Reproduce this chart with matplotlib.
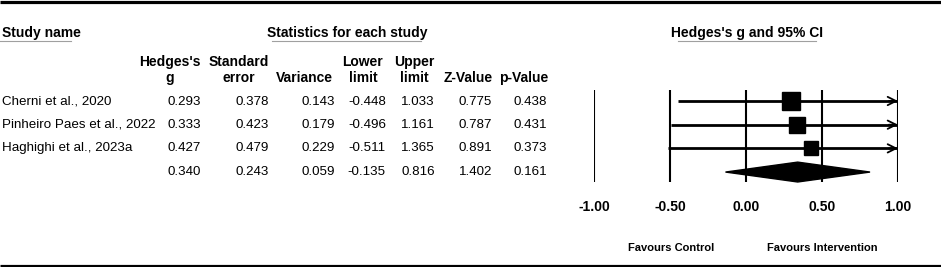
import matplotlib
matplotlib.use("Agg")
import matplotlib.pyplot as plt
from matplotlib.patches import Polygon
import numpy as np

plt.rcParams['font.family'] = ['Liberation Sans', 'DejaVu Sans']

# ---------------- data ----------------
studies = ["Cherni et al., 2020", "Pinheiro Paes et al., 2022", "Haghighi et al., 2023a", ""]
hedges_g = [0.293, 0.333, 0.427, 0.340]
std_err = [0.378, 0.423, 0.479, 0.243]
variance = [0.143, 0.179, 0.229, 0.059]
lower = [-0.448, -0.496, -0.511, -0.135]
upper = [1.033, 1.161, 1.365, 0.816]
z_value = [0.775, 0.787, 0.891, 1.402]
p_value = [0.438, 0.431, 0.373, 0.161]
col_headers = ["Hedges's\ng", "Standard\nerror", "Variance", "Lower\nlimit", "Upper\nlimit", "Z-Value", "p-Value"]
x_ticks = [-1.0, -0.5, 0.0, 0.5, 1.0]
x_tick_labels = ["-1.00", "-0.50", "0.00", "0.50", "1.00"]

W, H = 941, 267
fig = plt.figure(figsize=(W / 100, H / 100), dpi=100)

# full-figure axes in pixel coordinates for the table
tab = fig.add_axes([0, 0, 1, 1])
tab.set_xlim(0, W)
tab.set_ylim(H, 0)
tab.axis('off')

FS = 10
FSR = 9.6
# borders
tab.plot([0, W], [1.5, 1.5], color='black', lw=2.3, solid_capstyle='butt')
tab.plot([0, W], [265.5, 265.5], color='black', lw=2.3, solid_capstyle='butt')

# section titles
tab.text(2, 33, "Study name", fontsize=FS, fontweight='bold', ha='left', va='center')
tab.plot([0, 71], [40.5, 40.5], color='#a0a0a0', lw=0.8)
tab.text(347, 33, "Statistics for each study", fontsize=FS, fontweight='bold', ha='center', va='center')
tab.plot([272, 421], [40.5, 40.5], color='#a0a0a0', lw=0.8)
tab.text(747, 33, "Hedges's g and 95% CI", fontsize=FS, fontweight='bold', ha='center', va='center')
tab.plot([678, 816], [40.5, 40.5], color='#a0a0a0', lw=0.8)

col_right = [201, 269, 335, 386, 435, 492, 547]
col_center = [170, 239, 304, 363, 414, 468, 524]
for hdr, cx in zip(col_headers, col_center):
    tab.text(cx, 82, hdr, fontsize=FS, fontweight='bold', ha='center', va='baseline',
             multialignment='center', linespacing=1.15)

row_y = [102, 124.5, 148, 172]
cols = [hedges_g, std_err, variance, lower, upper, z_value, p_value]
for i, name in enumerate(studies):
    tab.text(2, row_y[i], name, fontsize=FSR, ha='left', va='center')
    for col, xr in zip(cols, col_right):
        tab.text(xr, row_y[i], f"{col[i]:.3f}", fontsize=FSR, ha='right', va='center')

# ---------------- forest plot axes ----------------
x0, x1 = 594, 898
ytop, ybot = 90, 182
ax = fig.add_axes([x0 / W, (H - ybot) / H, (x1 - x0) / W, (ybot - ytop) / H])
ax.set_xlim(-1.0, 1.0)
ax.set_ylim(3.42, -0.465)
for s in ax.spines.values():
    s.set_visible(False)
ax.set_yticks([])
ax.set_xticks(x_ticks)
ax.set_xticklabels(x_tick_labels, fontsize=FS, fontweight='bold')
ax.tick_params(axis='x', length=0, pad=13)
ax.patch.set_alpha(0)
for t in x_ticks:
    ax.axvline(t, color='black', lw=1.5, zorder=1)

xmin, xmax = -1.0, 1.0
weights = [1 / v for v in variance[:3]]
for i in range(3):
    lo = max(lower[i], xmin)
    hi = min(upper[i], xmax)
    ax.plot([lo, hi], [i, i], color='black', lw=2.0, zorder=2, solid_capstyle='butt')
    if upper[i] > xmax:
        ax.annotate("", xy=(xmax, i), xytext=(xmax - 0.06, i),
                    arrowprops=dict(arrowstyle='->', color='black', lw=1.3,
                                    mutation_scale=15, shrinkA=0, shrinkB=0),
                    annotation_clip=False)
    ms = 4.9 * np.sqrt(weights[i])
    ax.plot([hedges_g[i]], [i], marker='s', color='black', markersize=ms, zorder=3, clip_on=False)

# summary diamond
h = 0.42
diamond = Polygon([[lower[3], 3], [hedges_g[3], 3 - h], [upper[3], 3], [hedges_g[3], 3 + h]],
                  closed=True, facecolor='black', edgecolor='black', zorder=3, clip_on=False)
ax.add_patch(diamond)

tab.text(671, 248, "Favours Control", fontsize=8, fontweight='bold', ha='center', va='center')
tab.text(822, 248, "Favours Intervention", fontsize=8, fontweight='bold', ha='center', va='center')

fig.savefig("out.png", dpi=100)
